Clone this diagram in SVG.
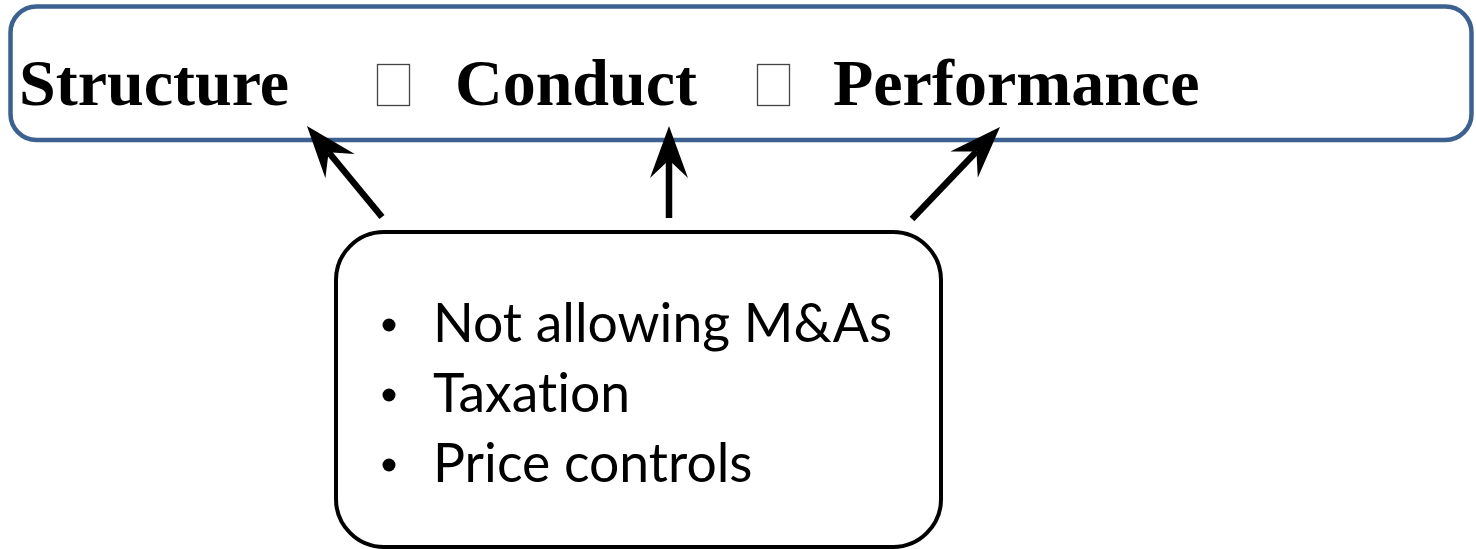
<svg xmlns="http://www.w3.org/2000/svg" width="1476" height="549" viewBox="0 0 1476 549">
<style>
.title{font-family:"Liberation Serif","Times New Roman",serif;font-weight:bold;font-size:66px;fill:#000}
.item{font-family:Lato,"Open Sans",sans-serif;font-size:53.5px;fill:#000;font-variant-ligatures:none}
.arrow{stroke:#000;stroke-width:6.5;fill:none}
.tofu{fill:none;stroke:#444;stroke-width:1.3}
</style>
<defs>
<marker id="head" markerUnits="userSpaceOnUse" orient="auto" markerWidth="60" markerHeight="44" viewBox="-53 -22 60 44" refX="-34" refY="0">
<path d="M0,0 L-52,-19 L-34,0 L-52,19 Z" fill="#000"/>
</marker>
</defs>
<g id="scp">
<rect x="10.5" y="6.5" width="1461" height="133.5" rx="26" fill="#fff" stroke="#3c6190" stroke-width="4.5"/>
<text class="title" x="19" y="105">Structure</text>
<rect class="tofu" x="377.5" y="64.5" width="32" height="41"/>
<text class="title" x="455" y="105">Conduct</text>
<rect class="tofu" x="757.5" y="64.5" width="32" height="41"/>
<text class="title" x="833" y="105">Performance</text>
</g>
<g id="policies">
<rect x="336" y="232" width="605" height="315" rx="48" fill="#fff" stroke="#000" stroke-width="4"/>
<circle cx="389" cy="325" r="6.5" fill="#000"/>
<circle cx="389" cy="395" r="6.5" fill="#000"/>
<circle cx="389" cy="465" r="6.5" fill="#000"/>
<text class="item" x="433" y="342">Not allowing M&amp;As</text>
<text class="item" x="433" y="412">Taxation</text>
<text class="item" x="433" y="482">Price controls</text>
</g>
<g id="connectors">
<line class="arrow" x1="382" y1="217" x2="328.6" y2="152.2" marker-end="url(#head)"/>
<line class="arrow" x1="669" y1="218" x2="669" y2="160" marker-end="url(#head)"/>
<line class="arrow" x1="912" y1="219" x2="976.5" y2="151.6" marker-end="url(#head)"/>
</g>
</svg>
